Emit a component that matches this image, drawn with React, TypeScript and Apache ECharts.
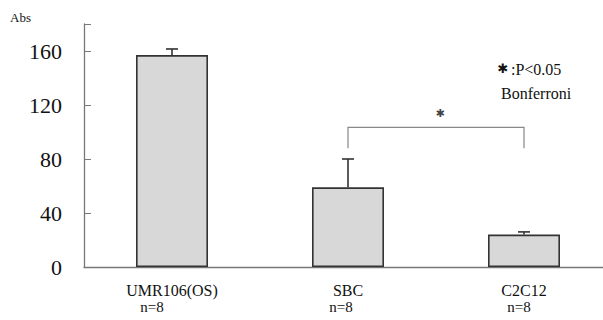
import React, { useEffect, useRef } from "react";
import * as echarts from "echarts";

const categories = ["UMR106(OS)", "SBC", "C2C12"];
const means = [157, 59, 24];
const errors = [4.5, 21, 2];
const sampleLabels = ["n=8", "n=8", "n=8"];
const yTicks = [0, 40, 80, 120, 160];
const bracket = { from: 1, to: 2, low: 88, high: 103.5, label: "\u2731" };

const serif = "Liberation Serif";

export default function App() {
  const ref = useRef<HTMLDivElement>(null);
  useEffect(() => {
    if (!ref.current) return;
    const chart = echarts.init(ref.current, undefined, { renderer: "svg" });
    const errData = means.map((m, i) => [i, m, m + errors[i]]);
    const txt = (size: number, extra: any = {}) => ({ fill: "#111", fontFamily: serif, fontSize: size, ...extra });
    chart.setOption({
      animation: false,
      grid: { left: 84, width: 528, top: 24, height: 243, containLabel: false, outerBoundsMode: "none" },
      xAxis: {
        type: "category",
        data: categories,
        axisLine: { lineStyle: { color: "#777", width: 1.3 } },
        axisTick: { inside: true, length: 6, lineStyle: { color: "#777" } },
        axisLabel: { color: "#111", fontFamily: serif, fontSize: 16, margin: 15 },
      },
      yAxis: {
        type: "value",
        min: 0,
        max: 180,
        interval: 40,
        splitLine: { show: false },
        axisLine: { show: true, lineStyle: { color: "#777", width: 1.3 } },
        axisTick: { show: true, inside: true, length: 7, lineStyle: { color: "#777" } },
        axisLabel: {
          color: "#111",
          fontFamily: serif,
          fontSize: 22,
          margin: 22,
          formatter: (v: number) => (yTicks.includes(v) ? String(v) : ""),
        },
      },
      series: [
        {
          type: "bar",
          data: means,
          barWidth: 72,
          itemStyle: { color: "#d8d8d8", borderColor: "#333", borderWidth: 1.6 },
        },
        {
          type: "custom",
          data: errData,
          z: 5,
          renderItem: (params: any, api: any) => {
            const x = api.value(0);
            const lo = api.coord([x, api.value(1)]);
            const hi = api.coord([x, api.value(2)]);
            const cw = 6;
            return {
              type: "group",
              children: [
                { type: "line", shape: { x1: lo[0], y1: lo[1], x2: hi[0], y2: hi[1] }, style: { stroke: "#333", lineWidth: 1.6 } },
                { type: "line", shape: { x1: hi[0] - cw, y1: hi[1], x2: hi[0] + cw, y2: hi[1] }, style: { stroke: "#333", lineWidth: 1.6 } },
              ],
            };
          },
        },
        {
          type: "custom",
          data: [[bracket.from, bracket.to, bracket.low, bracket.high]],
          z: 5,
          renderItem: (params: any, api: any) => {
            const a = api.coord([api.value(0), api.value(2)]);
            const b = api.coord([api.value(1), api.value(3)]);
            const midX = (a[0] + b[0]) / 2 + 4;
            return {
              type: "group",
              children: [
                {
                  type: "polyline",
                  shape: { points: [[a[0], a[1]], [a[0], b[1]], [b[0], b[1]], [b[0], a[1]]] },
                  style: { stroke: "#888", lineWidth: 1.2, fill: "none" },
                },
                {
                  type: "text",
                  x: midX,
                  y: b[1] - 14,
                  style: { text: bracket.label, fill: "#444", fontFamily: "DejaVu Sans", fontSize: 11, align: "center", verticalAlign: "middle" },
                },
              ],
            };
          },
        },
      ],
      graphic: [
        { type: "text", x: 10, y: 17, style: txt(13, { text: "Abs", verticalAlign: "middle" }) },
        { type: "text", x: 503, y: 68, style: { text: "\u2731", fill: "#111", fontFamily: "DejaVu Sans", fontWeight: "bold", fontSize: 13, align: "center", verticalAlign: "middle" } },
        { type: "text", x: 511, y: 69, style: txt(16, { text: ":P<0.05", verticalAlign: "middle" }) },
        { type: "text", x: 501, y: 93, style: txt(16, { text: "Bonferroni", verticalAlign: "middle" }) },
        ...sampleLabels.map((t, i) => ({
          type: "text",
          x: [152, 341, 519][i],
          y: 307,
          style: txt(15, { text: t, align: "center", verticalAlign: "middle" }),
        })),
      ],
    });
    return () => chart.dispose();
  }, []);
  return <div ref={ref} style={{ position: "absolute", left: 0, top: 0, width: 603, height: 320 }} />;
}
